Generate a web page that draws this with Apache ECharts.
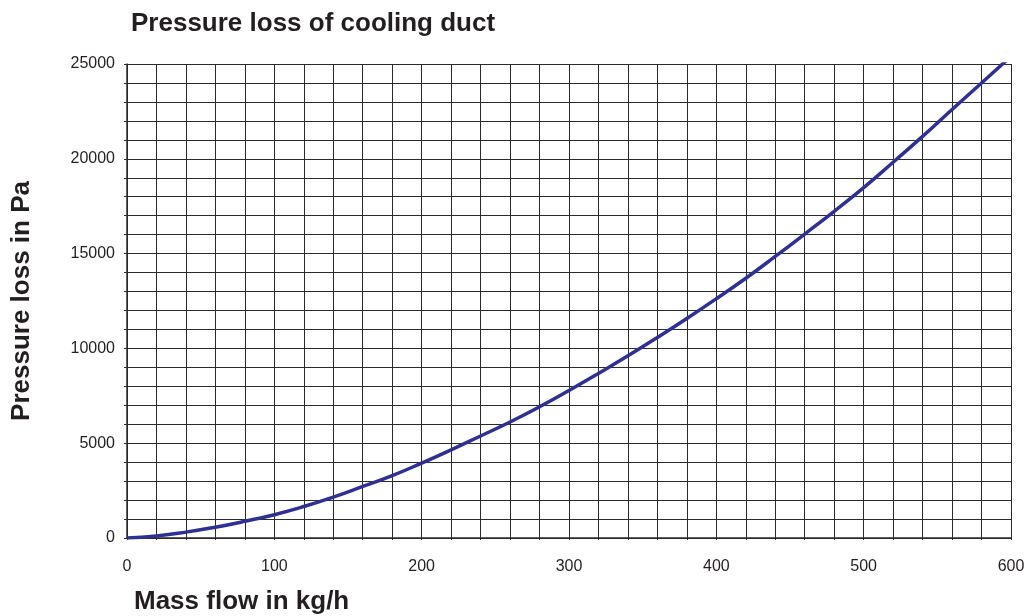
<!DOCTYPE html>
<html>
<head>
<meta charset="utf-8">
<script src="https://cdn.jsdelivr.net/npm/echarts@6/dist/echarts.min.js"></script>
<style>
  html, body { margin: 0; padding: 0; background: #fff; }
  #chart { width: 1029px; height: 616px; }
</style>
</head>
<body>
<div id="chart"></div>
<script>
// mass flow in kg/h
const massFlow = [0, 20, 40, 60, 80, 100, 120, 140, 160, 180, 200, 220, 240, 260, 280, 300,
  320, 340, 360, 380, 400, 420, 440, 460, 480, 500, 520, 540, 560, 580, 600];
// pressure loss in Pa
const pressureLoss = [0, 110, 310, 570, 880, 1230, 1660, 2160, 2720, 3290, 3950, 4650, 5380, 6120, 6920, 7780,
  8680, 9610, 10580, 11580, 12620, 13700, 14850, 16030, 17230, 18480, 19820, 21180, 22600, 24000, 25400];

const font = 'Liberation Sans, Arial, Helvetica, sans-serif';
const gridColor = '#2b2b2b';

const myChart = echarts.init(document.getElementById('chart'));

const option = {
  animation: false,
  title: [{
    text: 'Pressure loss of cooling duct',
    left: 126,
    top: 6,
    textStyle: { fontFamily: font, fontSize: 26, fontWeight: 'bold', color: '#231f20' }
  }, {
    // x axis name sits under the left part of the axis
    text: 'Mass flow in kg/h',
    left: 129,
    top: 584,
    textStyle: { fontFamily: font, fontSize: 26, fontWeight: 'bold', color: '#231f20' }
  }],
  grid: { left: 127, right: 18, top: 64, bottom: 78, containLabel: false },
  xAxis: {
    type: 'value',
    min: 0,
    max: 600,
    interval: 20,
    axisLine: { show: true, lineStyle: { color: gridColor, width: 1.5 } },
    axisTick: { show: true, length: 2, lineStyle: { color: gridColor } },
    splitLine: { show: true, lineStyle: { color: gridColor, width: 1 } },
    axisLabel: {
      margin: 21,
      fontFamily: font,
      fontSize: 16,
      color: '#231f20',
      formatter: v => (v % 100 === 0 ? String(v) : '')
    }
  },
  yAxis: {
    type: 'value',
    min: 0,
    max: 25000,
    interval: 1000,
    name: 'Pressure loss in Pa',
    nameLocation: 'middle',
    nameGap: 92,
    nameTextStyle: { fontFamily: font, fontSize: 26, fontWeight: 'bold', color: '#231f20' },
    axisLine: { show: true, lineStyle: { color: gridColor, width: 1.5 } },
    axisTick: { show: true, length: 3, lineStyle: { color: gridColor } },
    splitLine: { show: true, lineStyle: { color: gridColor, width: 1 } },
    axisLabel: {
      margin: 12,
      fontFamily: font,
      fontSize: 16,
      color: '#231f20',
      formatter: v => (v % 5000 === 0 ? String(v) : '')
    }
  },
  series: [{
    type: 'line',
    data: massFlow.map((m, i) => [m, pressureLoss[i]]),
    smooth: true,
    symbol: 'none',
    clip: true,
    lineStyle: { color: '#2e3192', width: 3.5 }
  }]
};

myChart.setOption(option);
</script>
</body>
</html>
